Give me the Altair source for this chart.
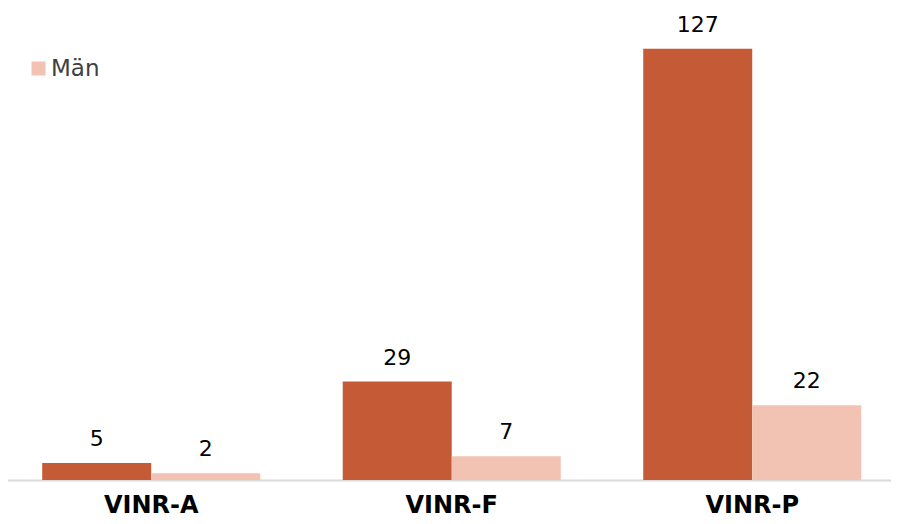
import altair as alt
import pandas as pd

categories = ["VINR-A", "VINR-F", "VINR-P"]
series = ["Kvinnor", "Män"]
kvinnor = [5, 29, 127]
man = [2, 7, 22]
colors = ["#C55A36", "#F2C3B2"]

rows = []
for c, k, m in zip(categories, kvinnor, man):
    rows.append({"kategori": c, "kön": "Kvinnor", "antal": k})
    rows.append({"kategori": c, "kön": "Män", "antal": m})
df = pd.DataFrame(rows)

x = alt.X("kategori:N", sort=categories, title=None,
          scale=alt.Scale(range=[-7, 894.5], paddingInner=0, paddingOuter=0),
          axis=alt.Axis(labelAngle=0, labelFont="DejaVu Sans", labelFontWeight="bold",
                        labelFontSize=24, labelColor="#000000", labelPadding=13,
                        ticks=False, domainColor="#DADADA", domainWidth=2, grid=False))
xo = alt.XOffset("kön:N", sort=series,
                 scale=alt.Scale(paddingInner=0, paddingOuter=0.378))
y = alt.Y("antal:Q", title=None, scale=alt.Scale(domain=[0, 139], nice=False),
          axis=None)

bars = alt.Chart(df).mark_bar(size=109).encode(
    x=x, xOffset=xo, y=y,
    color=alt.Color("kön:N", sort=series,
                    scale=alt.Scale(domain=series, range=colors),
                    legend=alt.Legend(title=None, orient="none", legendX=19, legendY=-21,
                                      symbolType="square", symbolSize=196,
                                      symbolStrokeWidth=0, labelFontSize=23,
                                      labelFont="DejaVu Sans", labelColor="#404040",
                                      labelOffset=1, rowPadding=46, padding=0)),
)

labels = alt.Chart(df).mark_text(
    baseline="alphabetic", dy=-17, fontSize=22, font="DejaVu Sans", color="#000000"
).encode(x=x, xOffset=xo, y=y, text="antal:Q")

chart = (bars + labels).properties(
    width=883, height=472,
    padding={"top": 0, "left": 0, "right": 0, "bottom": 36},
    autosize=alt.AutoSizeParams(type="none")
).configure_view(stroke=None)

chart.save("out.html", embed_options={"renderer": "svg", "actions": False})
